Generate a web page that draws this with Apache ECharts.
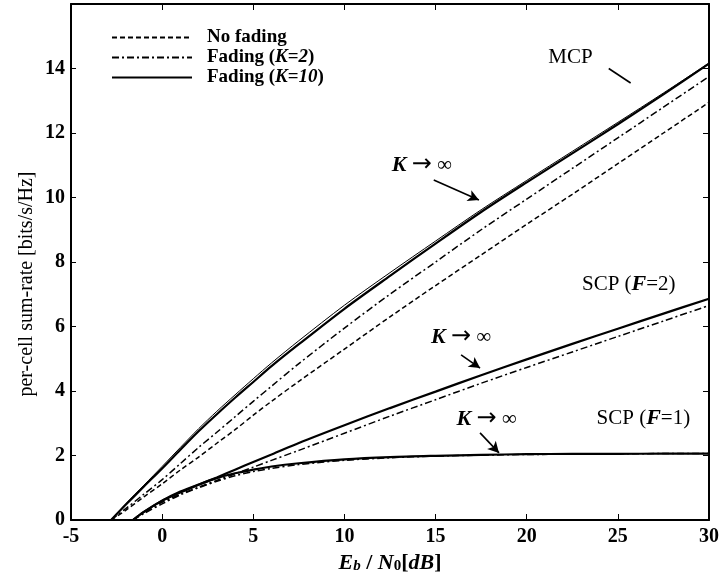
<!DOCTYPE html>
<html>
<head>
<meta charset="utf-8">
<script src="https://cdn.jsdelivr.net/npm/echarts@6/dist/echarts.min.js"></script>
<style>
  html, body { margin: 0; background: #fff; }
  #main { width: 723px; height: 588px; }
</style>
</head>
<body>
<div id="main"></div>
<script>
// x values (Eb/N0 in dB)
var xMcp = [-2.8, -2, -1, 0, 1, 2, 3, 4, 5, 6, 7.5, 10, 12.5, 15, 17.5, 20, 22.5, 25, 27.5, 30];
var xScp = [-1.6, -1, 0, 1, 2, 3, 4, 5, 6, 7.5, 10, 12.5, 15, 17.5, 20, 22.5, 25, 27.5, 30];

// MCP curves
var mcpNoFading = [0, 0.3, 0.72, 1.12, 1.55, 1.95, 2.38, 2.8, 3.25, 3.68, 4.3, 5.3, 6.3, 7.27, 8.22, 9.17, 10.1, 11.05, 12.0, 12.95];
var mcpK2 = [0, 0.35, 0.8, 1.25, 1.75, 2.25, 2.72, 3.2, 3.68, 4.15, 4.85, 5.95, 7.0, 8.0, 9.0, 9.95, 10.9, 11.85, 12.8, 13.75];
var mcpK10 = [0, 0.47, 1.04, 1.6, 2.18, 2.75, 3.28, 3.79, 4.28, 4.77, 5.45, 6.55, 7.57, 8.57, 9.55, 10.47, 11.37, 12.27, 13.2, 14.15];
var mcpKinf = [0, 0.5, 1.08, 1.66, 2.25, 2.83, 3.37, 3.88, 4.38, 4.87, 5.56, 6.66, 7.67, 8.65, 9.62, 10.53, 11.43, 12.33, 13.24, 14.17];

// SCP curves
var scp2K2 = [0, 0.22, 0.55, 0.8, 1.02, 1.23, 1.43, 1.64, 1.85, 2.16, 2.69, 3.22, 3.73, 4.24, 4.73, 5.21, 5.69, 6.17, 6.65];
var scp2K10 = [0, 0.25, 0.6, 0.85, 1.09, 1.32, 1.56, 1.8, 2.03, 2.39, 2.94, 3.47, 3.98, 4.49, 4.98, 5.46, 5.93, 6.4, 6.86];
var scp1K2 = [0, 0.2, 0.5, 0.78, 1.0, 1.2, 1.37, 1.5, 1.6, 1.72, 1.85, 1.93, 1.98, 2.01, 2.03, 2.04, 2.05, 2.06, 2.06];
var scp1K10 = [0, 0.25, 0.6, 0.88, 1.1, 1.3, 1.45, 1.56, 1.66, 1.76, 1.88, 1.95, 1.99, 2.02, 2.04, 2.05, 2.05, 2.06, 2.06];

var FONT = "'Liberation Serif', 'DejaVu Serif', serif";

function pairs(xs, ys) {
    return xs.map(function (x, i) { return [x, ys[i]]; });
}

function curve(name, xs, ys, type, width) {
    return {
        name: name,
        type: 'line',
        data: pairs(xs, ys),
        showSymbol: false,
        symbol: 'none',
        smooth: 0.3,
        silent: true,
        color: '#000',
        itemStyle: { color: '#000' },
        lineStyle: { color: '#000', width: width, type: type }
    };
}

var dashed = [5, 3];
var dashDot = [7, 3, 2, 3];

var chart = echarts.init(document.getElementById('main'));

var option = {
    backgroundColor: '#fff',
    animation: false,
    color: ['#000'],
    textStyle: { fontFamily: FONT, color: '#000' },
    grid: { left: 71, right: 14, top: 4, bottom: 68, containLabel: false },
    legend: {
        orient: 'vertical',
        left: 106,
        top: 23,
        itemWidth: 80,
        itemHeight: 14,
        itemGap: 1,
        itemStyle: { opacity: 0 },
        data: ['No fading', 'Fading (K=2)', 'Fading (K=10)'],
        formatter: function (name) {
            if (name === 'Fading (K=2)') return 'Fading ({i|K}={i|2})';
            if (name === 'Fading (K=10)') return 'Fading ({i|K}={i|10})';
            return name;
        },
        textStyle: {
            fontFamily: FONT, fontSize: 19, fontWeight: 'bold', color: '#000',
            padding: [0, 0, 0, 10],
            rich: {
                i: { fontFamily: FONT, fontSize: 19, fontWeight: 'bold', fontStyle: 'italic', color: '#000' }
            }
        }
    },
    xAxis: [{
        type: 'value',
        min: -5, max: 30, interval: 5,
        name: '{i|E}{s|b}{n| / }{i|N}{z|0}{n|[}{i|dB}{n|]}',
        nameLocation: 'middle',
        nameGap: 32,
        nameMoveOverlap: false,
        nameTextStyle: {
            rich: {
                i: { fontFamily: FONT, fontSize: 22, fontWeight: 'bold', fontStyle: 'italic', color: '#000', lineHeight: 22, verticalAlign: 'top' },
                n: { fontFamily: FONT, fontSize: 22, fontWeight: 'bold', color: '#000', lineHeight: 22, verticalAlign: 'top' },
                s: { fontFamily: FONT, fontSize: 15, fontWeight: 'bold', fontStyle: 'italic', color: '#000', lineHeight: 15, padding: [14, 0, 0, 0], verticalAlign: 'bottom' },
                z: { fontFamily: FONT, fontSize: 15, fontWeight: 'bold', color: '#000', lineHeight: 15, padding: [14, 0, 0, 0], verticalAlign: 'bottom' }
            }
        },
        axisLine: { show: true, onZero: false, lineStyle: { color: '#000', width: 2 } },
        axisTick: { show: true, inside: true, length: 6, lineStyle: { color: '#000', width: 1 } },
        axisLabel: { fontFamily: FONT, fontSize: 20, fontWeight: 'bold', color: '#000', margin: 7 },
        splitLine: { show: false }
    }, {
        type: 'value',
        position: 'top',
        min: -5, max: 30, interval: 5,
        axisLine: { show: true, onZero: false, lineStyle: { color: '#000', width: 2 } },
        axisTick: { show: true, inside: true, length: 6, lineStyle: { color: '#000', width: 1 } },
        axisLabel: { show: false },
        splitLine: { show: false }
    }],
    yAxis: [{
        type: 'value',
        min: 0, max: 16, interval: 2,
        axisLine: { show: true, onZero: false, lineStyle: { color: '#000', width: 2 } },
        axisTick: { show: true, inside: true, length: 5, lineStyle: { color: '#000', width: 1 } },
        axisLabel: { fontFamily: FONT, fontSize: 20, fontWeight: 'bold', color: '#000', margin: 6, showMaxLabel: false },
        splitLine: { show: false }
    }, {
        type: 'value',
        position: 'right',
        min: 0, max: 16, interval: 2,
        axisLine: { show: true, onZero: false, lineStyle: { color: '#000', width: 2 } },
        axisTick: { show: true, inside: true, length: 6, lineStyle: { color: '#000', width: 1 } },
        axisLabel: { show: false },
        splitLine: { show: false }
    }],
    series: [
        curve('No fading', xMcp, mcpNoFading, dashed, 1.5),
        curve('Fading (K=2)', xMcp, mcpK2, dashDot, 1.5),
        curve('Fading (K=10)', xMcp, mcpK10, 'solid', 2.2),
        curve('K-inf MCP', xMcp, mcpKinf, 'solid', 1),
        curve('Fading (K=2)', xScp, scp2K2, dashDot, 1.5),
        curve('Fading (K=10)', xScp, scp2K10, 'solid', 2.2),
        curve('Fading (K=2)', xScp, scp1K2, dashDot, 1.5),
        curve('Fading (K=10)', xScp, scp1K10, 'solid', 2.2),
        {
            name: 'arrows',
            type: 'line',
            data: [],
            silent: true,
            markLine: {
                silent: true,
                animation: false,
                symbol: ['none', 'arrow'],
                symbolSize: [9, 11],
                label: { show: false },
                lineStyle: { color: '#000', width: 1.6, type: 'solid' },
                data: [
                    [{ coord: [14.9, 10.54] }, { coord: [17.38, 9.92] }],
                    [{ coord: [16.4, 5.12] }, { coord: [17.44, 4.71] }],
                    [{ coord: [17.44, 2.70] }, { coord: [18.48, 2.08] }],
                    [{ coord: [24.5, 14.0], symbol: 'none' }, { coord: [25.7, 13.55], symbol: 'none' }]
                ]
            }
        }
    ]
};

chart.setOption(option);

// text annotations, anchored in data coordinates
var notes = [
    { text: 'MCP', at: [22.4, 14.35] },
    { text: '{i|K} {a|→} ∞', at: [14.25, 11.0] },
    { text: '{i|K} {a|→} ∞', at: [16.4, 5.67] },
    { text: '{i|K} {a|→} ∞', at: [17.8, 3.13] },
    { text: 'SCP ({i|F}=2)', at: [25.6, 7.31] },
    { text: 'SCP ({i|F}=1)', at: [26.4, 3.16] }
];

var graphics = notes.map(function (n) {
    var p = chart.convertToPixel({ xAxisIndex: 0, yAxisIndex: 0 }, n.at);
    return {
        type: 'text',
        x: p[0], y: p[1],
        silent: true,
        style: {
            text: n.text,
            fontFamily: FONT, fontSize: 21, fill: '#000',
            align: 'center', verticalAlign: 'middle',
            rich: {
                i: { fontFamily: FONT, fontSize: 22, fontStyle: 'italic', fontWeight: 'bold', fill: '#000', color: '#000' },
                a: { fontFamily: "'DejaVu Sans', sans-serif", fontSize: 24, fill: '#000', color: '#000' }
            }
        }
    };
});

graphics.push({
    type: 'text',
    x: 27, y: 284,
    rotation: Math.PI / 2,
    silent: true,
    style: {
        text: 'per-cell sum-rate [bits/s/Hz]',
        fontFamily: FONT, fontSize: 20, fill: '#000',
        align: 'center', verticalAlign: 'middle'
    }
});

chart.setOption({ graphic: graphics });
</script>
</body>
</html>
